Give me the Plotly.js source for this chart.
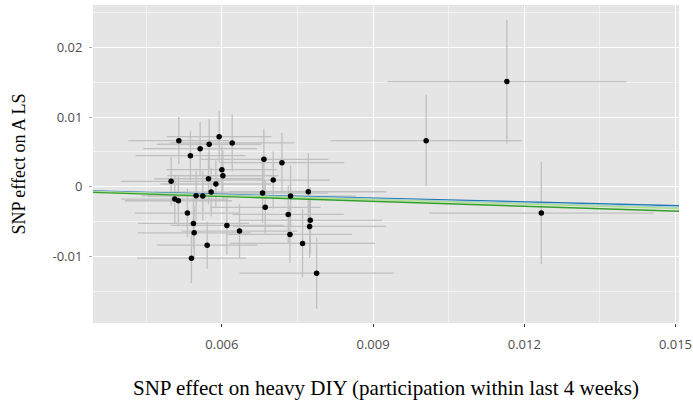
<!DOCTYPE html>
<html>
<head>
<meta charset="utf-8">
<script src="https://cdn.plot.ly/plotly-3.0.1.min.js"></script>
<style>html,body{margin:0;padding:0;background:#fff;}#chart{width:693px;height:407px;}</style>
</head>
<body>
<div id="chart"></div>
<script>
// SNP effects on exposure (heavy DIY) and outcome (A LS)
const snpExposure = [0.005146, 0.005376, 0.005569, 0.005748, 0.005946, 0.006205, 0.004993, 0.006000, 0.006020, 0.005734,
  0.005881, 0.005787, 0.005489, 0.005622, 0.005066, 0.005138, 0.005316, 0.005436, 0.005450, 0.005396,
  0.005708, 0.006099, 0.006350, 0.006834, 0.007192, 0.007019, 0.006807, 0.006860, 0.007363, 0.007715,
  0.007317, 0.007754, 0.007741, 0.007351, 0.007601, 0.007880, 0.011655, 0.010053, 0.012338];
const snpOutcome = [0.00662, 0.00446, 0.00547, 0.00610, 0.00719, 0.00629, 0.00078, 0.00245, 0.00158, 0.00115,
  0.00039, -0.00076, -0.00130, -0.00134, -0.00177, -0.00201, -0.00378, -0.00527, -0.00662, -0.01026,
  -0.00839, -0.00555, -0.00637, 0.00394, 0.00345, 0.00096, -0.00091, -0.00296, -0.00134, -0.00072,
  -0.00397, -0.00483, -0.00570, -0.00685, -0.00814, -0.01242, 0.01510, 0.00662, -0.00378];
const seExposure = [0.00100, 0.00109, 0.00113, 0.00104, 0.00104, 0.00123, 0.00100, 0.00110, 0.00110, 0.00108,
  0.00110, 0.00112, 0.00108, 0.00110, 0.00106, 0.00106, 0.00105, 0.00110, 0.00112, 0.00108,
  0.00100, 0.00112, 0.00115, 0.00128, 0.00124, 0.00113, 0.00130, 0.00110, 0.00130, 0.00155,
  0.00110, 0.00142, 0.00152, 0.00123, 0.00144, 0.00153, 0.00237, 0.00190, 0.00223];
const seOutcome = [0.00340, 0.00360, 0.00384, 0.00360, 0.00370, 0.00410, 0.00350, 0.00350, 0.00360, 0.00370,
  0.00340, 0.00350, 0.00360, 0.00350, 0.00350, 0.00350, 0.00350, 0.00360, 0.00380, 0.00360,
  0.00340, 0.00410, 0.00390, 0.00440, 0.00430, 0.00410, 0.00430, 0.00380, 0.00440, 0.00550,
  0.00420, 0.00480, 0.00450, 0.00410, 0.00490, 0.00510, 0.00888, 0.00660, 0.00733];

// MR method fits (slope through origin)
const methodNames = ["IVW", "Weighted median", "Weighted mode", "MR Egger"];
const methodSlopes = [-0.181, -0.195, -0.207, -0.234];
const methodIntercepts = [0, 0, 0, 0];
const methodColors = ["#1f78b4", "#a6cee3", "#b2df8a", "#33a02c"];

const xTickVals = [0.006, 0.009, 0.012, 0.015];
const xTickText = ["0.006", "0.009", "0.012", "0.015"];
const yTickVals = [-0.01, 0, 0.01, 0.02];
const yTickText = ["-0.01", "0", "0.01", "0.02"];

const xRange = [0.003443, 0.01507];
const yRange = [-0.01957, 0.0261];

const traces = [];
// error bars layer
traces.push({
  type: "scatter", mode: "markers", x: snpExposure, y: snpOutcome,
  marker: {size: 1, color: "rgba(0,0,0,0)"},
  error_x: {type: "data", array: seExposure, visible: true, color: "#c0c0c0", thickness: 1.3, width: 0},
  error_y: {type: "data", array: seOutcome, visible: true, color: "#c0c0c0", thickness: 1.3, width: 0},
  hoverinfo: "skip", showlegend: false
});
// method lines
methodSlopes.forEach((b, i) => {
  traces.push({
    type: "scatter", mode: "lines", name: methodNames[i],
    x: xRange, y: xRange.map(v => methodIntercepts[i] + b * v),
    line: {color: methodColors[i], width: 1.4}, showlegend: false
  });
});
// points
traces.push({
  type: "scatter", mode: "markers", x: snpExposure, y: snpOutcome,
  marker: {size: 5.5, color: "#000"}, showlegend: false
});

const layout = {
  width: 693, height: 407,
  margin: {l: 93, r: 14, t: 5, b: 84, pad: 0},
  paper_bgcolor: "#ffffff", plot_bgcolor: "#e5e5e5",
  showlegend: false,
  font: {family: "Open Sans, sans-serif", size: 13, color: "#4d4d4d"},
  xaxis: {
    range: xRange, tickvals: xTickVals, ticktext: xTickText,
    showgrid: true, gridcolor: "#ffffff", gridwidth: 1.1, zeroline: false,
    ticks: "outside", ticklen: 3, tickcolor: "#333333", tickwidth: 1,
    ticklabelstandoff: 6,
    tickfont: {family: "Open Sans, sans-serif", size: 13, color: "#4d4d4d"},
    minor: {dtick: 0.0015, tick0: 0, showgrid: true, gridcolor: "#ffffff", gridwidth: 0.5, ticks: ""},
    showline: false,
    title: {text: "SNP effect on heavy DIY (participation within last 4 weeks)", standoff: 28,
      font: {family: "Liberation Serif, Times New Roman, serif", size: 21, color: "#000000"}}
  },
  yaxis: {
    range: yRange, tickvals: yTickVals, ticktext: yTickText,
    showgrid: true, gridcolor: "#ffffff", gridwidth: 1.1, zeroline: false,
    ticks: "outside", ticklen: 3, tickcolor: "rgba(51,51,51,0.4)", tickwidth: 1,
    ticklabelstandoff: 4,
    tickfont: {family: "Open Sans, sans-serif", size: 13, color: "#4d4d4d"},
    minor: {dtick: 0.005, tick0: 0, showgrid: true, gridcolor: "#ffffff", gridwidth: 0.5, ticks: ""},
    showline: false,
    title: {text: "SNP effect on A LS", standoff: 22,
      font: {family: "Liberation Serif, Times New Roman, serif", size: 18, color: "#000000"}}
  }
};

Plotly.newPlot("chart", traces, layout, {displayModeBar: false, staticPlot: true});
</script>
</body>
</html>
